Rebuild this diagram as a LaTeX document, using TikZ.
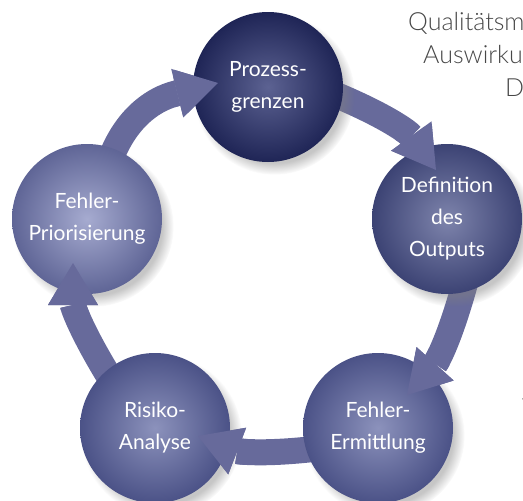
\documentclass[tikz,border=0pt]{standalone}
\usepackage{fontspec}
\setmainfont{Lato}
\newfontfamily\lightfont{Lato Light}
\usetikzlibrary{arrows.meta,shadows,fadings}
\definecolor{arrowc}{HTML}{676A9B}
\definecolor{cAout}{HTML}{1F2556}
\definecolor{cAin}{HTML}{5C6292}
\definecolor{cBout}{HTML}{3C4374}
\definecolor{cBin}{HTML}{7E84AC}
\definecolor{cCout}{HTML}{4B5287}
\definecolor{cCin}{HTML}{8C92BC}
\definecolor{cEout}{HTML}{5F6596}
\definecolor{cEin}{HTML}{A6ABD0}
\definecolor{sidetext}{HTML}{474747}
\tikzset{
  ball/.style={circle, minimum size=150pt, inner sep=0pt, text=white, align=center,
    font=\fontsize{21}{32}\selectfont,
    circular drop shadow={shadow xshift=6pt, shadow yshift=-7pt, shadow scale=1.07, opacity=0.45}},
  cyc/.style={draw=arrowc, line width=26pt,
    -{Triangle[length=42pt,width=50pt,line width=0pt]}},
  side/.style={font=\lightfont\fontsize{25}{33}\selectfont, text=sidetext,
    anchor=base west, inner sep=0pt}
}
\begin{document}
\begin{tikzpicture}[x=1pt,y=1pt]
\useasboundingbox (0,0) rectangle (523,-501);
\clip (0,0) rectangle (523,-501);
% text fragments at the right edge
\node[side] (q1) at (408,-30) {Qualitätsm};
\node[side] (q2) at (423,-63) {Auswirku};
\node[side] (q3) at (505,-96) {D};
\node[side] (q4) at (521.8,-416) {T};
\node[side] (q5) at (521.3,-451) {C};
% arrow tips
\coordinate (t1) at (218,-83);
\coordinate (t2) at (436,-170);
\coordinate (t3) at (407,-395);
\coordinate (t4) at (198,-436);
\coordinate (t5) at (73,-263);
% placement of the circles
\path (268,-87) coordinate (pA) (447,-219) coordinate (pB) (378,-428) coordinate (pC)
      (155,-428) coordinate (pD) (87,-219) coordinate (pE);
% bands (behind the circles)
\draw[cyc, shorten <=-16pt] (pE) ++(69:75) coordinate (s1) (s1) to[out=71,in=194] (t1);
\draw[cyc, shorten <=-16pt] (pA) ++(-8:75) coordinate (s2) (s2) to[out=-22,in=126] (t2);
\draw[cyc, shorten <=-16pt] (pB) ++(-78:75) coordinate (s3) (s3) to[out=-105,in=48] (t3);
\draw[cyc, shorten <=-16pt] (pC) ++(197:75) coordinate (s4) (s4) to[out=187,in=-21] (t4);
\draw[cyc, shorten <=-16pt] (pD) ++(131:75) coordinate (s5) (s5) to[out=122,in=270] (t5);
% circles
\node[ball, inner color=cAin, outer color=cAout] (proz) at (pA) {Prozess-\\grenzen};
\node[ball, inner color=cBin, outer color=cBout] (defn) at (pB) {Definition\\des\\Outputs};
\node[ball, inner color=cCin, outer color=cCout] (ermi) at (pC) {Fehler-\\Ermittlung};
\node[ball, inner color=cCin, outer color=cCout] (risk) at (pD) {Risiko-\\Analyse};
\node[ball, inner color=cEin, outer color=cEout] (prior) at (pE) {Fehler-\\Priorisierung};
% arrow heads over the target circles
\begin{scope}\clip (proz.center) circle (95pt);
\draw[cyc] (s1) to[out=71,in=194] (t1);\end{scope}
\begin{scope}\clip (defn.center) circle (95pt);
\draw[cyc] (s2) to[out=-22,in=126] (t2);\end{scope}
\begin{scope}\clip (ermi.center) circle (95pt);
\draw[cyc] (s3) to[out=-105,in=48] (t3);\end{scope}
\begin{scope}\clip (risk.center) circle (95pt);
\draw[cyc] (s4) to[out=187,in=-21] (t4);\end{scope}
\begin{scope}\clip (prior.center) circle (95pt);
\draw[cyc] (s5) to[out=122,in=270] (t5);\end{scope}
\end{tikzpicture}
\end{document}
